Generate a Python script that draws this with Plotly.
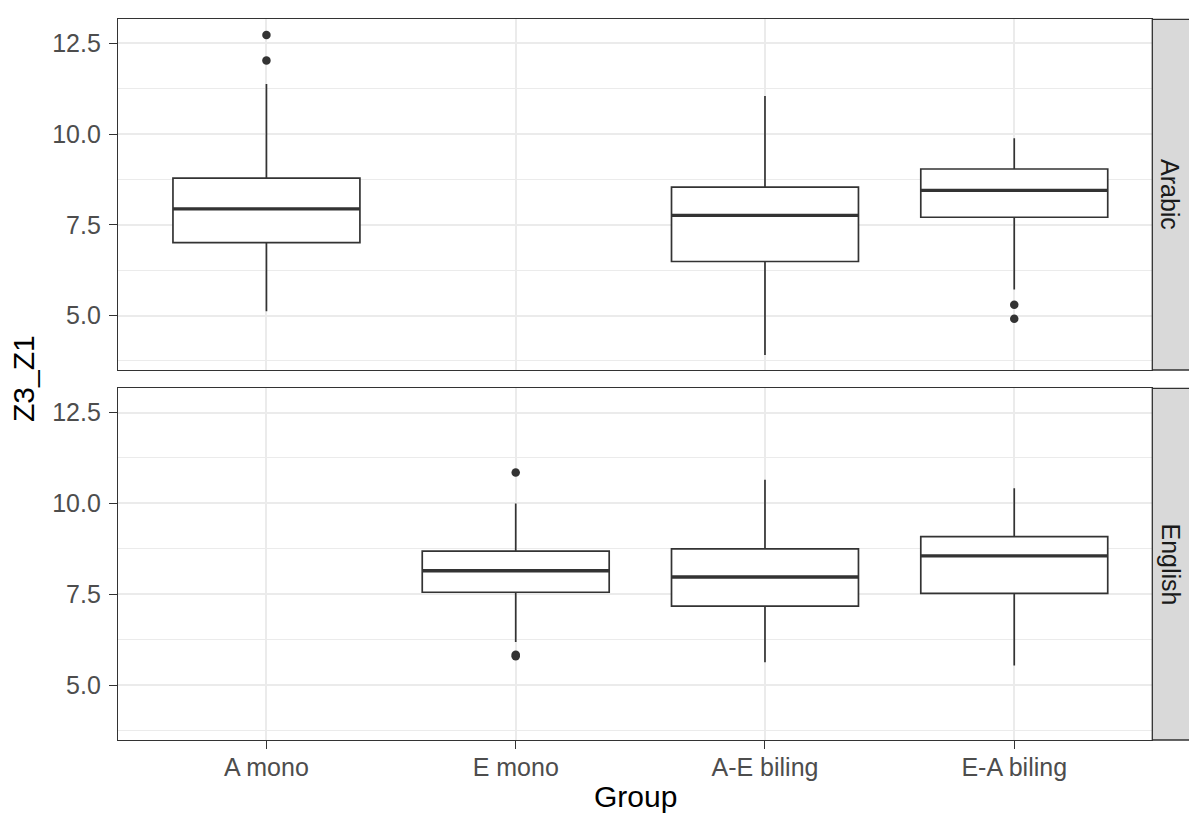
import plotly.graph_objects as go
from plotly.subplots import make_subplots

# ---------------- data ----------------
groups = ["A mono", "E mono", "A-E biling", "E-A biling"]
facets = ["Arabic", "English"]

# Arabic facet
ar_groups = ["A mono", "A-E biling", "E-A biling"]
ar_lower = [5.12, 3.91, 5.72]
ar_q1 = [7.01, 6.49, 7.71]
ar_median = [7.94, 7.76, 8.45]
ar_q3 = [8.79, 8.54, 9.04]
ar_upper = [11.38, 11.05, 9.89]
ar_out_group = ["A mono", "A mono", "E-A biling", "E-A biling"]
ar_out_value = [12.73, 12.03, 5.30, 4.91]

# English facet
en_groups = ["E mono", "A-E biling", "E-A biling"]
en_lower = [6.19, 5.64, 5.55]
en_q1 = [7.56, 7.18, 7.53]
en_median = [8.15, 7.98, 8.56]
en_q3 = [8.69, 8.75, 9.09]
en_upper = [10.00, 10.65, 10.42]
en_out_group = ["E mono", "E mono", "E mono"]
en_out_value = [10.85, 5.84, 5.80]

y_ticks = [5.0, 7.5, 10.0, 12.5]
y_tick_labels = ["5.0", "7.5", "10.0", "12.5"]
y_minor = [3.75, 6.25, 8.75, 11.25]

# ---------------- style ----------------
FONT = "Liberation Sans, Arial, Helvetica, sans-serif"
DARK = "#333333"
GRID = "#EBEBEB"
TICKFONT = dict(family=FONT, size=25, color="#4D4D4D")

W, H = 1189, 815
ML, MR, MT, MB = 118, 0, 19, 75
PW = W - ML - MR
PH = H - MT - MB
panel_right_px = 1152.3
xdom_end = (panel_right_px - ML) / PW
top_dom = [(740 - 370) / PH, (740 - 19.3) / PH]
bot_dom = [0.0, (740 - 388.3) / PH]

fig = make_subplots(rows=2, cols=1, shared_xaxes=False, vertical_spacing=0.02)

panels = [
    (1, ar_groups, ar_lower, ar_q1, ar_median, ar_q3, ar_upper, ar_out_group, ar_out_value),
    (2, en_groups, en_lower, en_q1, en_median, en_q3, en_upper, en_out_group, en_out_value),
]

for row, g, lo, q1, med, q3, up, og, ov in panels:
    fig.add_trace(go.Box(
        x=g, q1=q1, median=med, q3=q3, lowerfence=lo, upperfence=up,
        boxpoints=False, width=0.75, whiskerwidth=0,
        fillcolor="white", line=dict(color=DARK, width=1.7),
        showlegend=False, hoverinfo="skip"), row=row, col=1)
    # thicker median line (degenerate box drawn at the median)
    fig.add_trace(go.Box(
        x=g, q1=med, median=med, q3=med, lowerfence=med, upperfence=med,
        boxpoints=False, width=0.75, whiskerwidth=0,
        fillcolor="rgba(0,0,0,0)", line=dict(color=DARK, width=3.4),
        showlegend=False, hoverinfo="skip"), row=row, col=1)
    fig.add_trace(go.Scatter(
        x=og, y=ov, mode="markers",
        marker=dict(color=DARK, size=8.5),
        showlegend=False, hoverinfo="skip"), row=row, col=1)

xrange = [-0.5955, 3.5538]
yrange = [3.5, 13.165]

common_x = dict(
    type="category", categoryorder="array", categoryarray=groups,
    range=xrange, domain=[0, xdom_end],
    showgrid=True, gridcolor=GRID, gridwidth=1.5,
    showline=True, mirror=True, linecolor=DARK, linewidth=1.3,
    zeroline=False,
)
common_y = dict(
    range=yrange, tickmode="array", tickvals=y_ticks, ticktext=y_tick_labels,
    showgrid=True, gridcolor=GRID, gridwidth=1.5,
    minor=dict(tickvals=y_minor, showgrid=True, gridcolor=GRID, gridwidth=0.8, ticks=""),
    showline=True, mirror=True, linecolor=DARK, linewidth=1.3,
    ticks="outside", ticklen=8, tickwidth=1.4, tickcolor=DARK,
    tickfont=TICKFONT, zeroline=False, ticklabelstandoff=3,
)

fig.update_xaxes(**common_x, showticklabels=False, ticks="", row=1, col=1)
fig.update_xaxes(**common_x, showticklabels=True, ticks="outside", ticklen=8,
                 tickwidth=1.4, tickcolor=DARK, tickfont=TICKFONT,
                 ticklabelstandoff=-3, row=2, col=1)
fig.update_yaxes(**common_y, domain=top_dom, row=1, col=1)
fig.update_yaxes(**common_y, domain=bot_dom, row=2, col=1)

# facet strips
shapes = []
annotations = []
for dom, label in [(top_dom, facets[0]), (bot_dom, facets[1])]:
    shapes.append(dict(type="rect", xref="paper", yref="paper",
                       x0=xdom_end, x1=1.003, y0=dom[0], y1=dom[1],
                       fillcolor="#D9D9D9", line=dict(color=DARK, width=1.3),
                       layer="above"))
    annotations.append(dict(text=label, xref="paper", yref="paper",
                            x=(xdom_end + 1.0) / 2, y=(dom[0] + dom[1]) / 2,
                            xanchor="center", yanchor="middle", textangle=90,
                            showarrow=False,
                            font=dict(family=FONT, size=25, color="#1A1A1A")))

# axis titles
annotations.append(dict(text="Group", xref="paper", yref="paper",
                        x=xdom_end / 2, y=(740 - 796) / PH,
                        xanchor="center", yanchor="middle", showarrow=False,
                        font=dict(family=FONT, size=30, color="black")))
annotations.append(dict(text="Z3_Z1", xref="paper", yref="paper",
                        x=(23 - ML) / PW, y=(740 - 379) / PH,
                        xanchor="center", yanchor="middle", textangle=-90,
                        showarrow=False,
                        font=dict(family=FONT, size=30, color="black")))

fig.update_layout(
    width=W, height=H,
    margin=dict(l=ML, r=MR, t=MT, b=MB),
    paper_bgcolor="white", plot_bgcolor="white",
    shapes=shapes, annotations=annotations,
    showlegend=False,
    boxmode="overlay",
    font=dict(family=FONT),
)

fig.write_html("out.html")
